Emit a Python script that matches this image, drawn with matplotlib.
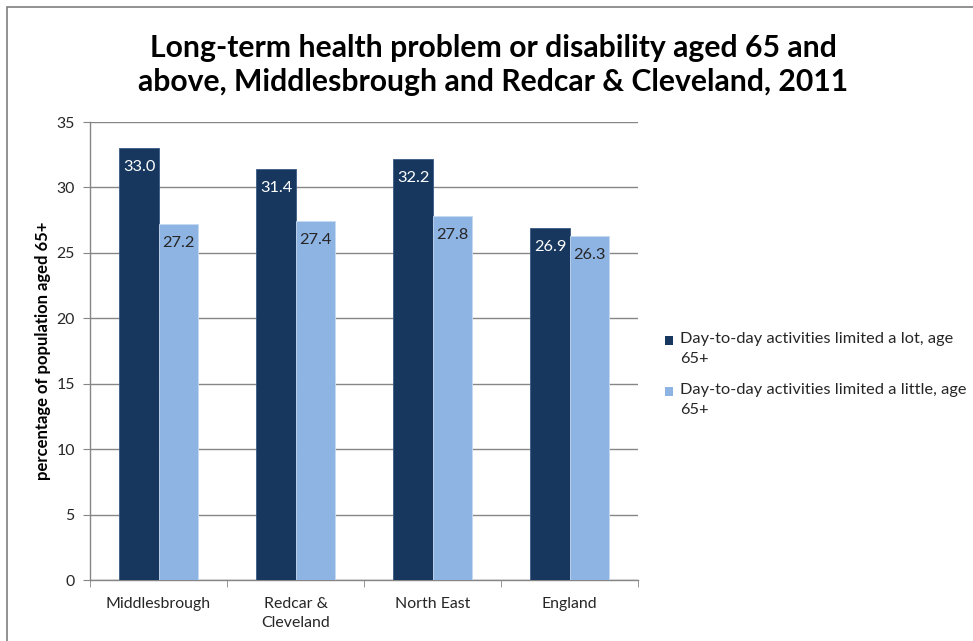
import matplotlib
matplotlib.use("Agg")
import matplotlib.pyplot as plt
import numpy as np
from matplotlib.patches import Rectangle
from matplotlib.ticker import FixedLocator

plt.rcParams['font.family'] = ['Lato', 'DejaVu Sans']

categories = ["Middlesbrough", "Redcar &\nCleveland", "North East", "England"]
series_names = ["Day-to-day activities limited a lot, age\n65+",
                "Day-to-day activities limited a little, age\n65+"]
limited_lot = [33.0, 31.4, 32.2, 26.9]
limited_little = [27.2, 27.4, 27.8, 26.3]
yticks = [0, 5, 10, 15, 20, 25, 30, 35]

dark = "#17375E"
light = "#8EB4E3"
grid_c = "#868686"
text_c = "#262626"

fig = plt.figure(figsize=(9.73, 6.41), dpi=100)
W, H = 973, 641

# outer chart border
fig.patches.append(Rectangle((7 / W, -0.01), 1.1, 1 - 7 / H + 0.01, transform=fig.transFigure,
                             fill=False, edgecolor="#7f7f7f", linewidth=1.2))

ax = fig.add_axes([90 / W, 1 - 580 / H, 548 / W, 458 / H])
x = np.arange(len(categories))
bw = 0.285
b1 = ax.bar(x - bw / 2, limited_lot, bw, color=dark, edgecolor="#3a5a85", linewidth=0.6, label=series_names[0], zorder=3)
b2 = ax.bar(x + bw / 2, limited_little, bw, color=light, edgecolor="#c5d9f1", linewidth=0.6, label=series_names[1], zorder=3)

for rect, v in zip(b1, limited_lot):
    ax.annotate(f"{v:.1f}", (rect.get_x() + rect.get_width() / 2, v), xytext=(0, -19),
                textcoords="offset pixels", ha="center", va="center", color="white", fontsize=11.8, zorder=4)
for rect, v in zip(b2, limited_little):
    ax.annotate(f"{v:.1f}", (rect.get_x() + rect.get_width() / 2, v), xytext=(0, -19),
                textcoords="offset pixels", ha="center", va="center", color=text_c, fontsize=11.8, zorder=4)

ax.set_xlim(-0.5, len(categories) - 0.5)
ax.set_ylim(0, 35)
ax.set_yticks(yticks)
ax.set_xticks(x)
ax.set_xticklabels(categories, fontsize=11.4, color=text_c, linespacing=1.5)
ax.xaxis.set_minor_locator(FixedLocator(np.arange(-0.5, len(categories), 1.0)))
ax.tick_params(axis="x", which="major", length=0, pad=12)
ax.tick_params(axis="x", which="minor", length=5, color=grid_c, direction="out")
ax.tick_params(axis="y", length=5, color=grid_c, direction="out", labelsize=11.4, labelcolor=text_c, pad=6)
ax.grid(axis="y", color=grid_c, linewidth=1, zorder=0)
ax.set_axisbelow(True)
for s in ["top", "right"]:
    ax.spines[s].set_visible(False)
for s in ["left", "bottom"]:
    ax.spines[s].set_color(grid_c)
    ax.spines[s].set_linewidth(1)

fig.text(43 / W, 1 - 351 / H, "percentage of population aged 65+", rotation=90, ha="center", va="center",
         fontsize=12, fontweight="bold", color="black")

fig.text(493 / W, 1 - 65 / H, "Long-term health problem or disability aged 65 and\nabove, Middlesbrough and Redcar & Cleveland, 2011",
         ha="center", va="center", fontsize=21.7, fontweight="bold", color="black", linespacing=1.3)

leg = fig.legend(handles=[b1, b2], loc="upper left", bbox_to_anchor=(647 / W, 1 - 317 / H),
                 frameon=False, fontsize=11.8, handlelength=0.7, handleheight=0.7, handletextpad=0.4,
                 labelspacing=1.05, labelcolor=text_c)
for t in leg.get_texts():
    t.set_linespacing(1.55)

# place legend swatches beside the first line of each (two-line) label, as in the original
fig.canvas.draw()
for h in leg.legend_handles:
    h.set_visible(False)
for t, col in zip(leg.get_texts(), [dark, light]):
    bb = t.get_window_extent()
    line_h = bb.height / 2.2
    cy = bb.y1 - line_h * 0.55
    s = 8.5
    fig.patches.append(Rectangle((bb.x0 - 15, cy - s / 2), s, s, transform=None,
                                 facecolor=col, edgecolor="none"))

fig.savefig("out.png", dpi=100)
